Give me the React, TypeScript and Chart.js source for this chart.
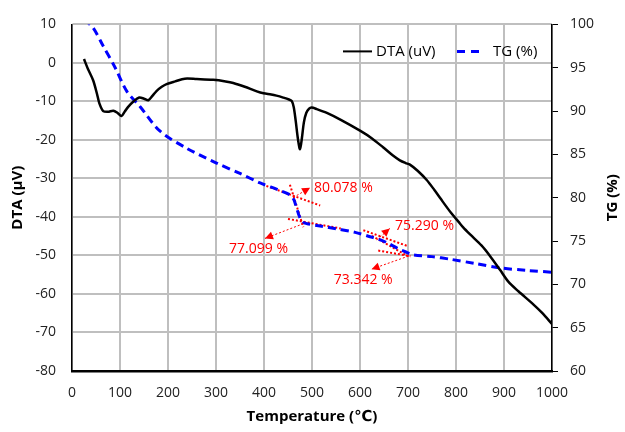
import React, { useEffect, useRef } from "react";
import { Chart, registerables } from "chart.js";

Chart.register(...registerables);

// DTA curve (uV)
const dtaTemp = [25, 33, 44, 52, 57, 65, 75, 86, 95, 103, 110, 117, 128, 140, 150, 159, 168, 176, 187, 197, 215, 235, 260, 294, 320, 336, 360, 385, 399, 415, 426, 440, 452, 458, 462, 466, 471, 475, 479, 483, 488, 494, 499, 510, 531, 560, 600, 625, 648, 668, 683, 695, 704, 720, 739, 755, 767, 790, 805, 815, 830, 853, 870, 892, 909, 930, 961, 980, 1000];
const dtaValues = [1.0, -1.5, -4.5, -8.0, -10.5, -12.5, -12.7, -12.4, -13.0, -13.8, -12.6, -11.4, -10.0, -9.0, -9.3, -9.7, -8.5, -7.3, -6.2, -5.5, -4.8, -4.1, -4.2, -4.4, -4.8, -5.2, -6.2, -7.4, -7.9, -8.2, -8.5, -9.0, -9.5, -9.9, -11.5, -15.0, -20.0, -22.4, -19.5, -15.5, -13.0, -11.9, -11.6, -12.0, -13.0, -14.8, -17.6, -19.6, -21.9, -24.0, -25.3, -26.0, -26.4, -28.0, -30.4, -33.0, -35.1, -39.0, -41.2, -42.7, -44.6, -47.4, -50.0, -53.8, -56.8, -59.3, -62.7, -65.0, -67.8];

// TG curve (%)
const tgTemp = [25, 44, 65, 90, 114, 142, 183, 239, 301, 350, 392, 430, 455, 462, 468, 474, 480, 490, 520, 551, 590, 621, 640, 660, 680, 697, 711, 750, 788, 840, 892, 950, 1000];
const tgValues = [100.6, 99.6, 97.5, 95.0, 92.3, 90.5, 87.7, 85.7, 84.0, 82.8, 81.7, 80.9, 80.3, 79.8, 78.8, 77.8, 77.2, 77.0, 76.7, 76.4, 76.0, 75.5, 75.2, 74.7, 74.1, 73.7, 73.4, 73.2, 72.9, 72.4, 71.9, 71.6, 71.4];

// Tangent construction lines: [T1, TG1, T2, TG2]
const tangentSegments = [
  [405, 81.35, 517, 79.1],
  [454, 81.5, 482, 76.6],
  [450, 77.55, 560, 76.45],
  [607, 76.25, 700, 74.4],
  [625, 75.6, 705, 73.1],
  [638, 73.9, 705, 73.25],
];

// Step annotations
const stepLabels = ["80.078 %", "77.099 %", "75.290 %", "73.342 %"];
const arrowFromT = [461, 482, 635, 701];
const arrowFromTG = [80.02, 77.0, 75.13, 73.26];
const arrowToT = [496, 402, 662, 624];
const arrowToTG = [81.15, 75.3, 76.45, 71.75];
const labelT = [504, 450, 673, 668];
const labelTG = [81.15, 74.1, 76.75, 70.45];
const labelAlign = ["left", "right", "left", "right"];

const xTicks = [0, 1000, 100];
const dtaRange = [-80, 10, 10];
const tgRange = [60, 100, 5];

const FONT = "'Open Sans', 'DejaVu Sans', sans-serif";
const GRID = "#bfbfbf";

const drawPlugin = {
  id: "customDraw",
  afterDatasetsDraw(chart: any) {
    const ctx = chart.ctx;
    const xs = chart.scales.x;
    const ys = chart.scales.y1;
    ctx.save();
    for (let i = 0; i < stepLabels.length; i++) {
      const x1 = xs.getPixelForValue(arrowFromT[i]);
      const y1 = ys.getPixelForValue(arrowFromTG[i]);
      const x2 = xs.getPixelForValue(arrowToT[i]);
      const y2 = ys.getPixelForValue(arrowToTG[i]);
      ctx.strokeStyle = "#ff0000";
      ctx.lineWidth = 1;
      ctx.setLineDash([2, 2]);
      ctx.beginPath();
      ctx.moveTo(x1, y1);
      ctx.lineTo(x2, y2);
      ctx.stroke();
      ctx.setLineDash([]);
      const ang = Math.atan2(y2 - y1, x2 - x1);
      const L = 8, W = 4;
      ctx.fillStyle = "#ff0000";
      ctx.beginPath();
      ctx.moveTo(x2, y2);
      ctx.lineTo(x2 - L * Math.cos(ang) + W * Math.sin(ang), y2 - L * Math.sin(ang) - W * Math.cos(ang));
      ctx.lineTo(x2 - L * Math.cos(ang) - W * Math.sin(ang), y2 - L * Math.sin(ang) + W * Math.cos(ang));
      ctx.closePath();
      ctx.fill();
      ctx.font = `14px ${FONT}`;
      ctx.textAlign = labelAlign[i] as CanvasTextAlign;
      ctx.textBaseline = "middle";
      ctx.fillText(stepLabels[i], xs.getPixelForValue(labelT[i]), ys.getPixelForValue(labelTG[i]));
    }
    ctx.restore();
  },
  afterDraw(chart: any) {
    const ctx = chart.ctx;
    const ca = chart.chartArea;
    ctx.save();
    ctx.fillStyle = "#000";
    ctx.font = `bold 15px ${FONT}`;
    ctx.textAlign = "center";
    ctx.textBaseline = "middle";
    const midY = (ca.top + ca.bottom) / 2;
    ctx.save();
    ctx.translate(18, midY);
    ctx.rotate(-Math.PI / 2);
    ctx.fillText("DTA (\u03bcV)", 0, 0);
    ctx.restore();
    ctx.save();
    ctx.translate(613, midY);
    ctx.rotate(-Math.PI / 2);
    ctx.fillText("TG (%)", 0, 0);
    ctx.restore();
    ctx.fillText("Temperature (\u2103)", (ca.left + ca.right) / 2, 417);

    // legend
    const ly = ca.top + 27;
    const lx = ca.right - 209;
    ctx.strokeStyle = "#000";
    ctx.lineWidth = 2;
    ctx.beginPath();
    ctx.moveTo(lx, ly);
    ctx.lineTo(lx + 29, ly);
    ctx.stroke();
    ctx.font = `15px ${FONT}`;
    ctx.textAlign = "left";
    ctx.fillStyle = "#000";
    ctx.fillText("DTA (uV)", lx + 33, ly);
    ctx.strokeStyle = "#0000ff";
    ctx.lineWidth = 3;
    ctx.setLineDash([8, 6]);
    ctx.beginPath();
    ctx.moveTo(lx + 114, ly);
    ctx.lineTo(lx + 140, ly);
    ctx.stroke();
    ctx.setLineDash([]);
    ctx.fillText("TG (%)", lx + 150, ly);
    ctx.restore();
  },
};

export default function App() {
  const ref = useRef<HTMLCanvasElement>(null);
  useEffect(() => {
    document.body.style.margin = "0";
    const tangentDatasets = tangentSegments.map((s) => ({
      data: [
        { x: s[0], y: s[1] },
        { x: s[2], y: s[3] },
      ],
      yAxisID: "y1",
      borderColor: "#ff0000",
      borderWidth: 2,
      borderDash: [2, 2],
      pointRadius: 0,
      fill: false,
    }));
    const tickFont = { family: FONT, size: 14 };
    const chart = new Chart(ref.current!, {
      type: "line",
      data: {
        datasets: [
          {
            label: "DTA (uV)",
            data: dtaTemp.map((t, i) => ({ x: t, y: dtaValues[i] })),
            yAxisID: "y",
            borderColor: "#000000",
            borderWidth: 2.5,
            pointRadius: 0,
            tension: 0.3,
            fill: false,
          },
          {
            label: "TG (%)",
            data: tgTemp.map((t, i) => ({ x: t, y: tgValues[i] })),
            yAxisID: "y1",
            borderColor: "#0000ff",
            borderWidth: 3,
            borderDash: [8, 5],
            pointRadius: 0,
            tension: 0.3,
            fill: false,
          },
          ...tangentDatasets,
        ] as any,
      },
      options: {
        animation: false,
        responsive: false,
        layout: { padding: { top: 16, left: 0, right: 0, bottom: 0 } },
        plugins: { legend: { display: false }, tooltip: { enabled: false } },
        scales: {
          x: {
            type: "linear",
            min: xTicks[0],
            max: xTicks[1],
            afterFit: (s: any) => { s.height = 61; },
            ticks: { stepSize: xTicks[2], color: "#222", font: tickFont, padding: 14, maxRotation: 0, callback: (v: any) => String(v) },
            grid: { display: true, color: GRID, lineWidth: 2, drawTicks: false },
            border: { display: true, color: "#000", width: 2.5 },
          },
          y: {
            position: "left",
            min: dtaRange[0],
            max: dtaRange[1],
            afterFit: (s: any) => { s.width = 72; },
            ticks: { stepSize: dtaRange[2], color: "#222", font: tickFont, padding: 16, callback: (v: any) => String(v) },
            grid: { display: true, color: GRID, lineWidth: 2, drawTicks: false },
            border: { display: true, color: "#000", width: 1.5 },
          },
          y1: {
            position: "right",
            min: tgRange[0],
            max: tgRange[1],
            afterFit: (s: any) => { s.width = 73; },
            ticks: { stepSize: tgRange[2], color: "#222", font: tickFont, padding: 12, callback: (v: any) => String(v) },
            grid: { drawOnChartArea: false, drawTicks: true, tickLength: 6, color: "#000", lineWidth: 1 },
            border: { display: true, color: "#000", width: 1.5 },
          },
        },
      } as any,
      plugins: [drawPlugin],
    });
    return () => chart.destroy();
  }, []);
  return (
    <div style={{ width: 625, height: 432 }}>
      <canvas ref={ref} width={625} height={432} style={{ display: "block" }} />
    </div>
  );
}
